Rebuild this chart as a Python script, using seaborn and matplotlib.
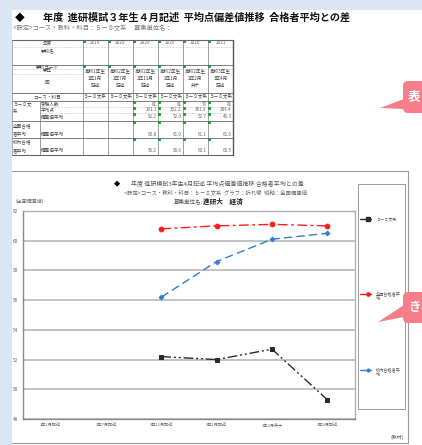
import numpy as np
import pandas as pd
import matplotlib
matplotlib.use("Agg")
import matplotlib.pyplot as plt
import seaborn as sns
from matplotlib.lines import Line2D
from matplotlib.patches import Rectangle, Polygon, FancyBboxPatch

# ---------------- data ----------------
categories = ["1年1月記述", "2年7月記述", "2年11月記述", "2年1月記述", "2年2月共テ", "3年4月記述"]
years = ["2019", "2020", "2020", "2020", "2020", "2021"]
grades = ["高校1年生", "高校2年生", "高校2年生", "高校2年生", "高校2年生", "高校3年生"]
exams = ["1年1月", "2年7月", "2年11月", "2年1月", "2年2月", "3年4月"]
kinds = ["記述", "記述", "記述", "記述", "共テ", "記述"]
course = "５－８文系"
examinees = [None, None, 81, 81, 79, 81]
avg_score = [None, None, 191.1, 302.2, 361.9, 284.4]
dev_self = [np.nan, np.nan, 52.2, 52.0, 52.7, 49.3]
dev_national = [np.nan, np.nan, 60.8, 61.0, 61.1, 61.0]
dev_school = [np.nan, np.nan, 56.2, 58.6, 60.1, 60.5]
series_names = ["５－８文系", "全国合格者平均", "校内合格者平均"]
y_ticks = [48, 50, 52, 54, 56, 58, 60, 62]

sns.set_style("white")
plt.rcParams["font.family"] = ["Noto Sans CJK JP", "DejaVu Sans"]

W, H = 422, 445
fig = plt.figure(figsize=(W / 100, H / 100), dpi=100)
fig.patch.set_facecolor("#d9e7f5")


def fx(x):
    return x / W


def fy(y):
    return 1 - y / H


def txt(x, y, s, size, ha="left", va="center", color="#444", weight="normal", **kw):
    fig.text(fx(x), fy(y), s, fontsize=size, ha=ha, va=va, color=color,
             fontweight=weight, **kw)


def hl(x1, x2, y, color="#777", lw=0.6, ls="-"):
    fig.add_artist(Line2D([fx(x1), fx(x2)], [fy(y), fy(y)], transform=fig.transFigure,
                          color=color, lw=lw, ls=ls))


def vl(x, y1, y2, color="#777", lw=0.6, ls="-"):
    fig.add_artist(Line2D([fx(x), fx(x)], [fy(y1), fy(y2)], transform=fig.transFigure,
                          color=color, lw=lw, ls=ls))


# white page
fig.add_artist(Rectangle((fx(11.5), 0), 1 - fx(11.5), fy(9.5), transform=fig.transFigure,
                         facecolor="white", edgecolor="none", zorder=0))

# ---------------- header ----------------
txt(15, 18, "◆", 7, color="black")
txt(43, 18, "年度  進研模試３年生４月記述  平均点偏差値推移  合格者平均との差", 7.3,
    color="#111", weight="bold")
txt(13, 28, "<設定>コース・教科・科目：５－８文系　 募集単位名：", 4.5, color="#777")

# ---------------- table ----------------
cx = [12, 40, 82.5, 107.5, 133, 158, 183, 208, 233]
tl, tr = 12, 233
fs = 3.3
hl(tl, tr, 39.5, "#666", 0.8)
hl(tl, tr, 47, "#999", 0.4, ":")
hl(tl, tr, 64.7, "#666", 0.6)
hl(tl, tr, 68.7, "#999", 0.4, ":")
hl(tl, cx[2], 74, "#999", 0.4, ":")
hl(tl, tr, 92.7, "#666", 0.6)
hl(tl, tr, 100.5, "#666", 0.6)
hl(cx[1], tr, 106.5, "#999", 0.4, ":")
hl(cx[1], tr, 113, "#999", 0.4, ":")
hl(tl, tr, 120.7, "#666", 0.6)
hl(tl, tr, 138.3, "#666", 0.6)
hl(tl, tr, 155, "#666", 0.8)
for x in cx[2:-1]:
    vl(x, 39.5, 155, "#777", 0.5)
vl(cx[1], 100.5, 155, "#777", 0.5)
vl(tr, 39.5, 155, "#555", 1.0)
vl(tl, 39.5, 155, "#888", 0.5)

lab_c = (cx[0] + cx[2]) / 2
txt(lab_c, 43, "年度", fs, ha="center")
txt(lab_c, 51, "学校名", fs, ha="center")
txt(lab_c, 66.7, "学校コード", fs, ha="center")
txt(lab_c, 71, "学年", fs, ha="center")
txt(lab_c, 82, "回", fs, ha="center")
txt(lab_c, 96.7, "コース・科目", fs, ha="center")
txt(13, 104, "５－８文", fs)
txt(13, 111.5, "系", fs)
txt(41, 104, "受験人数", fs)
txt(41, 109.8, "平均点", fs)
txt(41, 117, "偏差値平均", fs)
txt(13, 126, "全国合格", fs)
txt(13, 134, "者平均", fs)
txt(41, 134, "偏差値平均", fs)
txt(13, 142, "校内合格", fs)
txt(13, 150.5, "者平均", fs)
txt(41, 150.5, "偏差値平均", fs)

green = "#1f9a3c"
for j in range(6):
    x0, x1 = cx[2 + j], cx[3 + j]
    xc = (x0 + x1) / 2
    txt(xc, 43, years[j], fs, ha="center", color="#666")
    txt(xc, 71.3, grades[j], fs, ha="center")
    txt(xc, 78, exams[j], fs, ha="center")
    txt(xc, 85, kinds[j], fs, ha="center")
    txt(xc, 96.7, course, fs, ha="center")
    for gy in (40.6, 65.8):
        fig.add_artist(Line2D([fx(x0 + 1)], [fy(gy)], transform=fig.transFigure,
                              marker="s", ms=1.2, color=green, lw=0))
    if examinees[j] is not None:
        xr = x1 - 1.5
        txt(xr, 104, f"{examinees[j]}", fs, ha="right", color="#666")
        txt(xr, 109.8, f"{avg_score[j]:.1f}", fs, ha="right", color="#666")
        txt(xr, 117, f"{dev_self[j]:.1f}", fs, ha="right", color="#666")
        txt(xr, 134.5, f"{dev_national[j]:.1f}", fs, ha="right", color="#666")
        txt(xr, 151, f"{dev_school[j]:.1f}", fs, ha="right", color="#666")
        for gy in (101.6, 107.5, 114, 121.8, 139.4):
            fig.add_artist(Line2D([fx(x0 + 1)], [fy(gy)], transform=fig.transFigure,
                                  marker="s", ms=1.2, color=green, lw=0))

# ---------------- chart box ----------------
hl(12, 408, 171, "#999", 0.8)
hl(12, 408, 443, "#999", 0.8)
vl(408, 171, 443, "#999", 0.8)

txt(114, 184, "◆", 4.5, color="black")
txt(131, 184, "年度 進研模試3年生4月記述 平均点偏差値推移 合格者平均との差", 4.3, color="#555")
txt(216, 192.5, "<設定>コース・教科・科目：５－８文系  グラフ：折れ線  縦軸：全国偏差値", 3.9,
    ha="center", color="#666")
txt(203, 201, "募集単位名:", 4.0, ha="right", color="#555")
txt(203, 201, "進研大　経済", 4.8, color="#222", weight="bold")
txt(15, 201.5, "(全国偏差値)", 3.6, color="#666")

ax = fig.add_axes([fx(23), fy(419), (355 - 23) / W, (419 - 211) / H])
ax.set_facecolor("white")
xpos = np.arange(len(categories)) + 0.5
df = pd.DataFrame({"x": xpos, "self": dev_self, "national": dev_national, "school": dev_school})

styles = [
    ("self", "#2a2a2a", "s", 3.4, (7, 2, 1.5, 2, 1.5, 2)),
    ("national", "#ff1a1a", "o", 3.4, (7, 2.5, 2, 2.5)),
    ("school", "#2f7fd0", "D", 2.4, (6, 3)),
]
for col, color, mk, ms, dash in styles:
    sub = df.dropna(subset=[col])
    sns.lineplot(data=sub, x="x", y=col, ax=ax, color=color, marker=mk, markersize=ms,
                 markeredgecolor=color, linewidth=1.0, zorder=3)
    ax.lines[-1].set_dashes(dash)

ax.set_xlim(0, 6)
ax.set_ylim(48, 62)
ax.set_yticks(y_ticks)
ax.set_yticklabels([str(v) for v in y_ticks], fontsize=3.4, color="#666")
ax.set_xticks(xpos)
ax.set_xticklabels(categories, fontsize=3.0, color="#666")
ax.set_xticks([1, 2, 3, 4, 5], minor=True)
ax.tick_params(axis="y", length=0, pad=3.6)
ax.tick_params(axis="x", which="major", length=0, pad=2.5)
ax.tick_params(axis="x", which="minor", length=1.5, width=0.5, color="#888")
ax.set_xlabel("")
ax.set_ylabel("")
ax.yaxis.grid(True, color="#b8b8b8", lw=1.2)
ax.xaxis.grid(False)
ax.set_axisbelow(True)
for side in ["top", "right"]:
    ax.spines[side].set_color("#b0b0b0")
    ax.spines[side].set_linewidth(1.0)
for side in ["left", "bottom"]:
    ax.spines[side].set_color("#8a8a8a")
    ax.spines[side].set_linewidth(1.0)
leg = ax.get_legend()
if leg is not None:
    leg.remove()

# ---------------- legend ----------------
fig.add_artist(Rectangle((fx(358), fy(409)), (405 - 358) / W, (409 - 184) / H,
                         transform=fig.transFigure, facecolor="white", edgecolor="#999", lw=0.7))
leg_y = [219, 294, 370]
for (col, color, mk, ms, dash), ly in zip(styles, leg_y):
    fig.add_artist(Line2D([fx(360), fx(371)], [fy(ly), fy(ly)], transform=fig.transFigure,
                          color=color, lw=1.0))
    fig.add_artist(Line2D([fx(368)], [fy(ly)], transform=fig.transFigure,
                          color=color, marker=mk, ms=ms * 0.7, lw=0))
leg_lines = [["５－８文系"], ["全国合格者平", "均"], ["校内合格者平", "均"]]
for ly, parts in zip(leg_y, leg_lines):
    for k, p in enumerate(parts):
        txt(376, ly + k * 5.5, p, 3.0, color="#555")

txt(404, 437, "(教材)", 3.6, ha="right", color="#666")

# ---------------- callouts ----------------
pink = "#f77d8a"
for (by0, by1, tip, b0, b1, s) in [(81, 113, (380, 108), 99, 109, "表"),
                                     (292, 323, (378, 322), 305, 317, "き")]:
    fig.add_artist(FancyBboxPatch((fx(403), fy(by1)), (30) / W, (by1 - by0) / H,
                                  boxstyle="round,pad=0,rounding_size=0.012",
                                  transform=fig.transFigure, facecolor=pink,
                                  edgecolor="none", zorder=5))
    fig.add_artist(Polygon([[fx(404), fy(b0)], [fx(tip[0]), fy(tip[1])], [fx(404), fy(b1)]],
                           closed=True, transform=fig.transFigure, facecolor=pink,
                           edgecolor="none", zorder=5))
    fig.text(fx(408), fy((by0 + by1) / 2), s, fontsize=9, color="white",
             fontweight="bold", ha="left", va="center", zorder=6)

fig.savefig("out.png", dpi=100, facecolor=fig.get_facecolor())
